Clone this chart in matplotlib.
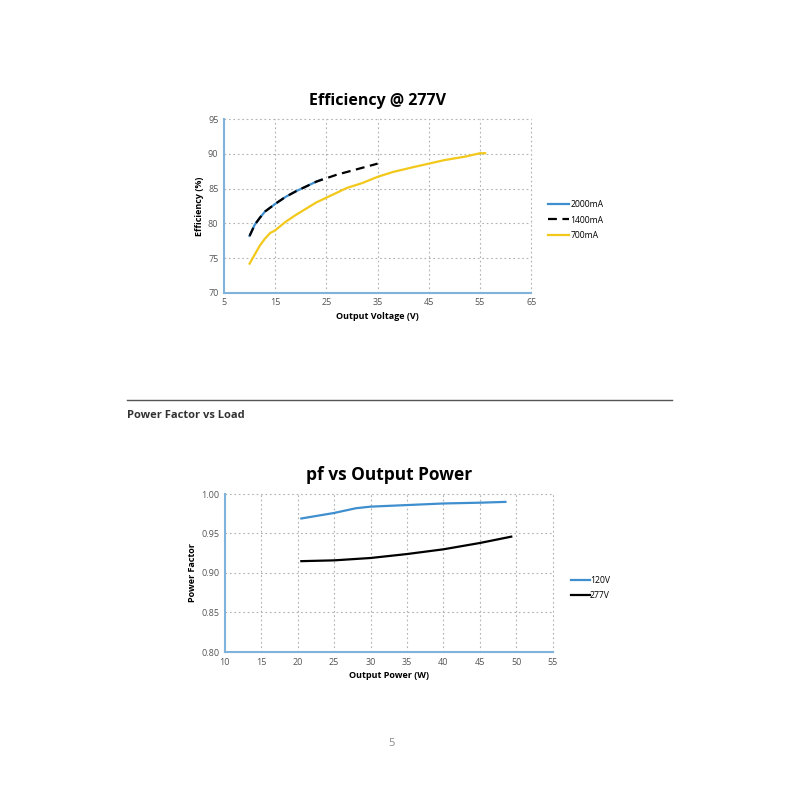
import matplotlib
matplotlib.use("Agg")
import matplotlib.pyplot as plt

plt.rcParams['font.family'] = ['Open Sans', 'DejaVu Sans']

# Efficiency @ 277V
v_2000 = [10, 11, 12, 13, 15, 17, 19, 21, 23, 24]
eff_2000 = [78.2, 79.8, 80.8, 81.7, 82.8, 83.8, 84.6, 85.3, 86.0, 86.3]
v_1400 = [10, 11, 12, 13, 15, 17, 19, 21, 23, 25, 27, 30, 33, 35]
eff_1400 = [78.2, 79.8, 80.8, 81.7, 82.8, 83.8, 84.6, 85.3, 86.0, 86.5, 87.0, 87.6, 88.2, 88.6]
v_700 = [10, 11, 12, 13, 14, 15, 17, 19, 21, 23, 25, 27, 29, 32, 35, 38, 42, 45, 48, 52, 55, 56]
eff_700 = [74.2, 75.5, 76.8, 77.8, 78.6, 79.0, 80.2, 81.2, 82.1, 83.0, 83.7, 84.4,
           85.1, 85.8, 86.7, 87.4, 88.1, 88.6, 89.1, 89.6, 90.1, 90.1]

# pf vs Output Power
p_120 = [20.5, 25, 28, 30, 35, 40, 45, 48.5]
pf_120 = [0.969, 0.976, 0.982, 0.984, 0.986, 0.988, 0.989, 0.990]
p_277 = [20.5, 25, 30, 35, 40, 45, 49.3]
pf_277 = [0.915, 0.916, 0.919, 0.924, 0.930, 0.938, 0.946]

blue = '#3f8fcf'
yellow = '#f2c81a'
spine_col = '#7fb3dc'
tick_col = '#555555'

fig = plt.figure(figsize=(8, 8), dpi=100)


def style(ax):
    for s in ['top', 'right']:
        ax.spines[s].set_visible(False)
    for s in ['left', 'bottom']:
        ax.spines[s].set_color(spine_col)
        ax.spines[s].set_linewidth(1.5)
    ax.grid(True, linestyle=(0, (1.5, 2.5)), color='#b0b0b0', linewidth=0.8, clip_on=False)
    ax.tick_params(length=0, labelsize=6.5, labelcolor=tick_col, pad=4)
    ax.set_axisbelow(True)


ax1 = fig.add_axes([0.28, 0.634, 0.384, 0.217])
ax1.plot(v_2000, eff_2000, color=blue, lw=1.6, label='2000mA')
ax1.plot(v_1400, eff_1400, color='black', lw=1.6, dashes=(4, 2.5), label='1400mA')
ax1.plot(v_700, eff_700, color=yellow, lw=1.6, label='700mA')
ax1.set_xlim(5, 65)
ax1.set_ylim(70, 95)
ax1.set_xticks(range(5, 66, 10))
ax1.set_yticks(range(70, 96, 5))
style(ax1)
ax1.set_xlabel('Output Voltage (V)', fontsize=6.5, fontweight='bold', labelpad=3)
ax1.set_ylabel('Efficiency (%)', fontsize=6.5, fontweight='bold', labelpad=3)
ax1.set_title('Efficiency @ 277V', fontsize=11.5, fontweight='bold', pad=10)
ax1.legend(loc='center left', bbox_to_anchor=(548 / 800, 1 - 220 / 800),
           bbox_transform=fig.transFigure, borderaxespad=0, borderpad=0,
           frameon=False, fontsize=6.2, handlelength=2.4, handletextpad=0.2,
           labelspacing=0.75)

ax2 = fig.add_axes([0.281, 0.185, 0.41, 0.1975])
ax2.plot(p_120, pf_120, color=blue, lw=1.6, label='120V')
ax2.plot(p_277, pf_277, color='black', lw=1.6, label='277V')
ax2.set_xlim(10, 55)
ax2.set_ylim(0.80, 1.00)
ax2.set_xticks(range(10, 56, 5))
ax2.set_yticks([0.80, 0.85, 0.90, 0.95, 1.00])
ax2.set_yticklabels(['0.80', '0.85', '0.90', '0.95', '1.00'])
style(ax2)
ax2.set_xlabel('Output Power (W)', fontsize=6.5, fontweight='bold', labelpad=3)
ax2.set_ylabel('Power Factor', fontsize=6.5, fontweight='bold', labelpad=3)
ax2.set_title('pf vs Output Power', fontsize=12.5, fontweight='bold', pad=10)
ax2.legend(loc='center left', bbox_to_anchor=(571 / 800, 1 - 588 / 800),
           bbox_transform=fig.transFigure, borderaxespad=0, borderpad=0,
           frameon=False, fontsize=6.2, handlelength=2.2, handletextpad=0.0,
           labelspacing=0.8)

# page furniture
fig.add_artist(plt.Line2D([127 / 800, 672 / 800], [1 - 400 / 800, 1 - 400 / 800],
                          color='#555555', lw=1))
fig.text(127 / 800, 1 - 415 / 800, 'Power Factor vs Load', fontsize=8,
         fontweight='bold', color='#333333', va='center')
fig.text(392 / 800, 1 - 743 / 800, '5', fontsize=8, color='#888888',
         ha='center', va='center')

fig.savefig('out.png', dpi=100)
